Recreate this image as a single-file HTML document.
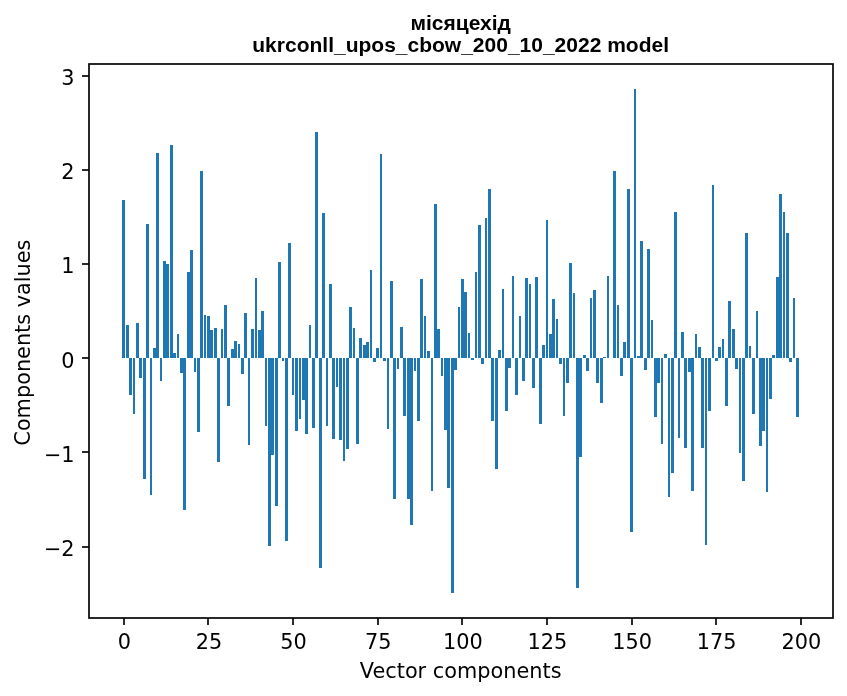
<!DOCTYPE html>
<html><head><meta charset="utf-8"><title>місяцехід</title>
<style>html,body{margin:0;padding:0;background:#fff;}body{width:847px;height:696px;overflow:hidden;}svg{display:block;will-change:transform;}</style>
</head><body>
<svg width="847" height="696" viewBox="0 0 847 696"><rect x="0" y="0" width="847" height="696" fill="#ffffff"/><g fill="#1f77b4" shape-rendering="crispEdges"><rect x="122" y="200" width="3" height="158"/><rect x="126" y="325" width="3" height="33"/><rect x="129" y="358" width="3" height="37"/><rect x="133" y="358" width="2" height="56"/><rect x="136" y="323" width="3" height="35"/><rect x="139" y="358" width="3" height="20"/><rect x="143" y="358" width="3" height="121"/><rect x="146" y="224" width="3" height="134"/><rect x="150" y="358" width="2" height="137"/><rect x="153" y="348" width="3" height="10"/><rect x="156" y="153" width="3" height="205"/><rect x="160" y="358" width="2" height="23"/><rect x="163" y="261" width="3" height="97"/><rect x="166" y="264" width="3" height="94"/><rect x="170" y="145" width="3" height="213"/><rect x="173" y="353" width="3" height="5"/><rect x="177" y="334" width="2" height="24"/><rect x="180" y="358" width="3" height="15"/><rect x="183" y="358" width="3" height="152"/><rect x="187" y="272" width="3" height="86"/><rect x="190" y="250" width="3" height="108"/><rect x="194" y="358" width="2" height="14"/><rect x="197" y="358" width="3" height="74"/><rect x="200" y="171" width="3" height="187"/><rect x="204" y="315" width="2" height="43"/><rect x="207" y="316" width="3" height="42"/><rect x="210" y="330" width="3" height="28"/><rect x="214" y="328" width="3" height="30"/><rect x="217" y="358" width="3" height="104"/><rect x="221" y="329" width="2" height="29"/><rect x="224" y="305" width="3" height="53"/><rect x="227" y="358" width="3" height="48"/><rect x="231" y="349" width="3" height="9"/><rect x="234" y="341" width="3" height="17"/><rect x="238" y="344" width="2" height="14"/><rect x="241" y="358" width="3" height="16"/><rect x="244" y="313" width="3" height="45"/><rect x="248" y="358" width="2" height="87"/><rect x="251" y="329" width="3" height="29"/><rect x="255" y="278" width="2" height="80"/><rect x="258" y="330" width="3" height="28"/><rect x="261" y="311" width="3" height="47"/><rect x="265" y="358" width="2" height="68"/><rect x="268" y="358" width="3" height="188"/><rect x="271" y="358" width="3" height="97"/><rect x="275" y="358" width="3" height="148"/><rect x="278" y="262" width="3" height="96"/><rect x="282" y="358" width="2" height="3"/><rect x="285" y="358" width="3" height="183"/><rect x="288" y="243" width="3" height="115"/><rect x="292" y="358" width="2" height="37"/><rect x="295" y="358" width="3" height="73"/><rect x="299" y="358" width="2" height="61"/><rect x="302" y="358" width="3" height="42"/><rect x="305" y="358" width="3" height="76"/><rect x="309" y="325" width="2" height="33"/><rect x="312" y="358" width="3" height="70"/><rect x="315" y="132" width="3" height="226"/><rect x="319" y="358" width="3" height="210"/><rect x="322" y="213" width="3" height="145"/><rect x="326" y="358" width="2" height="68"/><rect x="329" y="284" width="3" height="74"/><rect x="332" y="358" width="3" height="81"/><rect x="336" y="358" width="2" height="29"/><rect x="339" y="358" width="3" height="82"/><rect x="343" y="358" width="2" height="103"/><rect x="346" y="358" width="3" height="91"/><rect x="349" y="307" width="3" height="51"/><rect x="353" y="328" width="2" height="30"/><rect x="356" y="358" width="3" height="86"/><rect x="359" y="338" width="3" height="20"/><rect x="363" y="345" width="3" height="13"/><rect x="366" y="342" width="3" height="16"/><rect x="370" y="270" width="2" height="88"/><rect x="373" y="358" width="3" height="4"/><rect x="376" y="348" width="3" height="10"/><rect x="380" y="154" width="2" height="204"/><rect x="383" y="358" width="3" height="3"/><rect x="387" y="358" width="2" height="71"/><rect x="390" y="281" width="3" height="77"/><rect x="393" y="358" width="3" height="141"/><rect x="397" y="358" width="2" height="11"/><rect x="400" y="327" width="3" height="31"/><rect x="403" y="358" width="3" height="58"/><rect x="407" y="358" width="3" height="141"/><rect x="410" y="358" width="3" height="167"/><rect x="414" y="358" width="2" height="13"/><rect x="417" y="358" width="3" height="63"/><rect x="420" y="279" width="3" height="79"/><rect x="424" y="316" width="2" height="42"/><rect x="427" y="351" width="3" height="7"/><rect x="431" y="358" width="2" height="133"/><rect x="434" y="204" width="3" height="154"/><rect x="437" y="329" width="3" height="29"/><rect x="441" y="358" width="2" height="18"/><rect x="444" y="358" width="3" height="72"/><rect x="447" y="358" width="3" height="130"/><rect x="451" y="358" width="3" height="235"/><rect x="454" y="358" width="3" height="12"/><rect x="458" y="307" width="2" height="51"/><rect x="461" y="279" width="3" height="79"/><rect x="464" y="292" width="3" height="66"/><rect x="468" y="333" width="2" height="25"/><rect x="471" y="358" width="3" height="2"/><rect x="475" y="272" width="2" height="86"/><rect x="478" y="225" width="3" height="133"/><rect x="481" y="358" width="3" height="6"/><rect x="485" y="218" width="2" height="140"/><rect x="488" y="189" width="3" height="169"/><rect x="491" y="358" width="3" height="63"/><rect x="495" y="358" width="3" height="111"/><rect x="498" y="350" width="3" height="8"/><rect x="502" y="289" width="2" height="69"/><rect x="505" y="358" width="3" height="53"/><rect x="508" y="358" width="3" height="10"/><rect x="512" y="276" width="2" height="82"/><rect x="515" y="358" width="3" height="37"/><rect x="519" y="316" width="2" height="42"/><rect x="522" y="358" width="3" height="23"/><rect x="525" y="278" width="3" height="80"/><rect x="529" y="284" width="2" height="74"/><rect x="532" y="358" width="3" height="30"/><rect x="535" y="277" width="3" height="81"/><rect x="539" y="358" width="3" height="66"/><rect x="542" y="345" width="3" height="13"/><rect x="546" y="220" width="2" height="138"/><rect x="549" y="334" width="3" height="24"/><rect x="552" y="299" width="3" height="59"/><rect x="556" y="319" width="2" height="39"/><rect x="559" y="358" width="3" height="6"/><rect x="563" y="358" width="2" height="58"/><rect x="566" y="358" width="3" height="25"/><rect x="569" y="263" width="3" height="95"/><rect x="573" y="293" width="2" height="65"/><rect x="576" y="358" width="3" height="230"/><rect x="579" y="358" width="3" height="99"/><rect x="583" y="355" width="3" height="3"/><rect x="586" y="358" width="3" height="13"/><rect x="590" y="298" width="2" height="60"/><rect x="593" y="290" width="3" height="68"/><rect x="596" y="358" width="3" height="25"/><rect x="600" y="358" width="3" height="45"/><rect x="603" y="357" width="3" height="1"/><rect x="607" y="276" width="2" height="82"/><rect x="613" y="171" width="3" height="187"/><rect x="617" y="305" width="2" height="53"/><rect x="620" y="358" width="3" height="18"/><rect x="623" y="342" width="3" height="16"/><rect x="627" y="189" width="3" height="169"/><rect x="630" y="358" width="3" height="174"/><rect x="634" y="89" width="2" height="269"/><rect x="637" y="356" width="3" height="2"/><rect x="640" y="241" width="3" height="117"/><rect x="644" y="358" width="3" height="12"/><rect x="647" y="249" width="3" height="109"/><rect x="651" y="320" width="2" height="38"/><rect x="654" y="358" width="3" height="59"/><rect x="657" y="358" width="3" height="25"/><rect x="661" y="358" width="2" height="86"/><rect x="664" y="354" width="3" height="4"/><rect x="668" y="358" width="2" height="139"/><rect x="671" y="358" width="3" height="115"/><rect x="674" y="212" width="3" height="146"/><rect x="678" y="358" width="2" height="80"/><rect x="681" y="332" width="3" height="26"/><rect x="684" y="358" width="3" height="90"/><rect x="688" y="358" width="3" height="14"/><rect x="691" y="358" width="3" height="133"/><rect x="695" y="334" width="2" height="24"/><rect x="698" y="347" width="3" height="11"/><rect x="701" y="358" width="3" height="90"/><rect x="705" y="358" width="2" height="187"/><rect x="708" y="358" width="3" height="53"/><rect x="712" y="185" width="2" height="173"/><rect x="715" y="358" width="3" height="3"/><rect x="718" y="347" width="3" height="11"/><rect x="722" y="339" width="2" height="19"/><rect x="725" y="358" width="3" height="48"/><rect x="728" y="301" width="3" height="57"/><rect x="732" y="329" width="3" height="29"/><rect x="735" y="358" width="3" height="11"/><rect x="739" y="358" width="2" height="95"/><rect x="742" y="358" width="3" height="123"/><rect x="745" y="233" width="3" height="125"/><rect x="749" y="346" width="2" height="12"/><rect x="752" y="358" width="3" height="56"/><rect x="756" y="311" width="2" height="47"/><rect x="759" y="358" width="3" height="88"/><rect x="762" y="358" width="3" height="73"/><rect x="766" y="358" width="2" height="134"/><rect x="769" y="358" width="3" height="41"/><rect x="772" y="355" width="3" height="3"/><rect x="776" y="277" width="3" height="81"/><rect x="779" y="194" width="3" height="164"/><rect x="783" y="212" width="2" height="146"/><rect x="786" y="233" width="3" height="125"/><rect x="789" y="358" width="3" height="4"/><rect x="793" y="298" width="2" height="60"/><rect x="796" y="358" width="3" height="59"/></g><rect x="89" y="64" width="744" height="554" fill="none" stroke="#000" stroke-width="1.667" stroke-linejoin="miter" stroke-linecap="square"/><g stroke="#000" stroke-width="1.667"><line x1="124" y1="618" x2="124" y2="625.0"/><line x1="208" y1="618" x2="208" y2="625.0"/><line x1="293" y1="618" x2="293" y2="625.0"/><line x1="378" y1="618" x2="378" y2="625.0"/><line x1="462" y1="618" x2="462" y2="625.0"/><line x1="547" y1="618" x2="547" y2="625.0"/><line x1="632" y1="618" x2="632" y2="625.0"/><line x1="716" y1="618" x2="716" y2="625.0"/><line x1="801" y1="618" x2="801" y2="625.0"/><line x1="82.0" y1="547" x2="89" y2="547"/><line x1="82.0" y1="452" x2="89" y2="452"/><line x1="82.0" y1="358" x2="89" y2="358"/><line x1="82.0" y1="264" x2="89" y2="264"/><line x1="82.0" y1="170" x2="89" y2="170"/><line x1="82.0" y1="76" x2="89" y2="76"/></g><g font-family="'DejaVu Sans', sans-serif" font-size="20.83" fill="#000"><text x="124.34" y="648.7" text-anchor="middle">0</text><text x="208.97" y="648.7" text-anchor="middle">25</text><text x="293.60" y="648.7" text-anchor="middle">50</text><text x="378.23" y="648.7" text-anchor="middle">75</text><text x="462.86" y="648.7" text-anchor="middle">100</text><text x="547.49" y="648.7" text-anchor="middle">125</text><text x="632.12" y="648.7" text-anchor="middle">150</text><text x="716.75" y="648.7" text-anchor="middle">175</text><text x="801.38" y="648.7" text-anchor="middle">200</text><text x="74.6" y="555.90" text-anchor="end">−2</text><text x="74.6" y="461.75" text-anchor="end">−1</text><text x="74.6" y="367.60" text-anchor="end">0</text><text x="74.6" y="273.45" text-anchor="end">1</text><text x="74.6" y="179.30" text-anchor="end">2</text><text x="74.6" y="85.16" text-anchor="end">3</text></g><text x="460.66" y="678" text-anchor="middle" font-family="'DejaVu Sans', sans-serif" font-size="20.83">Vector components</text><text transform="translate(30,342.6) rotate(-90)" text-anchor="middle" font-family="'DejaVu Sans', sans-serif" font-size="20.83">Components values</text><text x="460.66" y="29.9" text-anchor="middle" font-family="'Liberation Sans', Arial, sans-serif" font-weight="bold" font-size="21">місяцехід</text><text x="460.66" y="51.8" text-anchor="middle" font-family="'Liberation Sans', Arial, sans-serif" font-weight="bold" font-size="21">ukrconll_upos_cbow_200_10_2022 model</text></svg>
</body></html>
